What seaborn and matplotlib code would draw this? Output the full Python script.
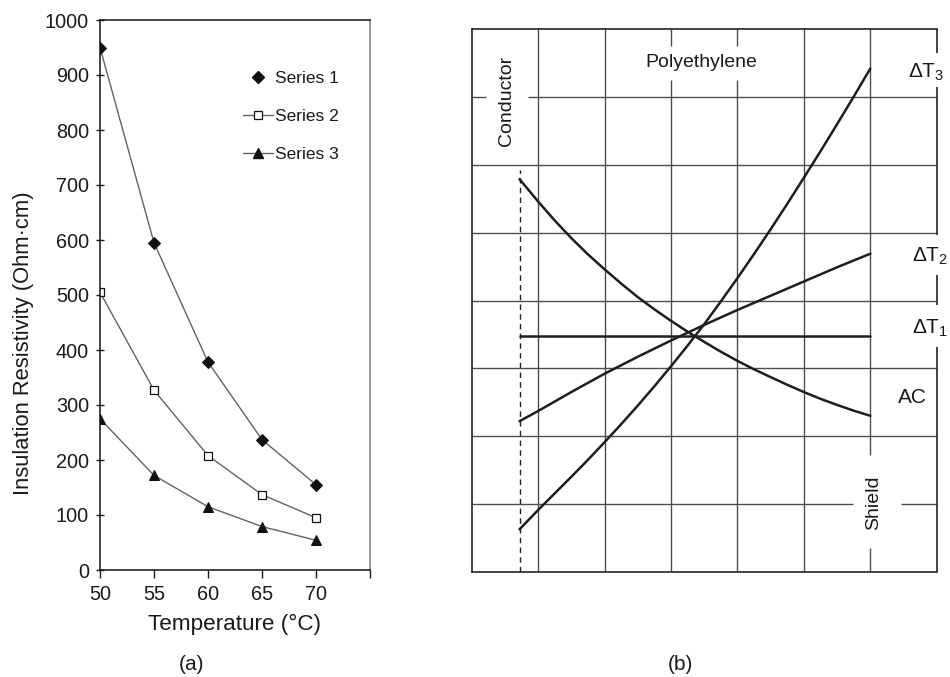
import matplotlib
matplotlib.use("Agg")
import matplotlib.pyplot as plt
import seaborn as sns
from matplotlib.lines import Line2D

# ---- (a) insulation resistivity versus temperature ----
temperature = [50, 55, 60, 65, 70]
series_1 = [950, 595, 378, 237, 155]
series_2 = [505, 327, 208, 137, 95]
series_3 = [275, 172, 115, 79, 54]
series_names = ["Series 1", "Series 2", "Series 3"]
temp_ticks = [50, 55, 60, 65, 70, 75]
temp_tick_labels = ["50", "55", "60", "65", "70", ""]
resist_ticks = [0, 100, 200, 300, 400, 500, 600, 700, 800, 900, 1000]

# ---- (b) electrical stress across the insulation wall ----
thickness = [0.72, 1.0, 1.25, 1.5, 1.75, 2.0, 2.25, 2.5, 2.75, 3.0, 3.25,
             3.5, 3.75, 4.0, 4.25, 4.5, 4.75, 5.0, 5.25, 5.5, 5.75, 6.0]
stress_ac = [5.79, 5.46, 5.18, 4.92, 4.68, 4.46, 4.25, 4.05, 3.87, 3.70, 3.54,
             3.39, 3.245, 3.11, 2.985, 2.87, 2.757, 2.65, 2.55, 2.46, 2.375, 2.30]
stress_dt2 = [2.22, 2.37, 2.51, 2.65, 2.785, 2.92, 3.045, 3.17, 3.29, 3.41, 3.525,
              3.64, 3.75, 3.86, 3.965, 4.07, 4.175, 4.28, 4.385, 4.49, 4.59, 4.69]
stress_dt3 = [0.625, 0.91, 1.155, 1.40, 1.65, 1.91, 2.175, 2.45, 2.735, 3.03, 3.335,
              3.65, 3.985, 4.33, 4.685, 5.05, 5.425, 5.81, 6.20, 6.60, 7.005, 7.42]
thickness_dt1 = [0.72, 6.0]
stress_dt1 = [3.47, 3.47]
conductor_edge = 0.72
conductor_top = 5.92

sns.set_theme(style="ticks")
plt.rcParams["font.family"] = ["Liberation Sans", "DejaVu Sans"]
plt.rcParams["mathtext.fontset"] = "custom"
plt.rcParams["mathtext.rm"] = "Liberation Sans"
plt.rcParams["mathtext.it"] = "Liberation Sans:italic"
plt.rcParams["text.color"] = "#1a1a1a"
plt.rcParams["axes.labelcolor"] = "#1a1a1a"
plt.rcParams["xtick.color"] = "#1a1a1a"
plt.rcParams["ytick.color"] = "#1a1a1a"

W, H = 950, 677
fig = plt.figure(figsize=(9.5, 6.77), dpi=100)
fig.patch.set_facecolor("white")


def box(x0, y0, x1, y1):
    """Axes rectangle from pixel edges (top-left origin)."""
    return [x0 / W, 1 - y1 / H, (x1 - x0) / W, (y1 - y0) / H]


# ================= panel (a) =================
ax1 = fig.add_axes(box(100, 20, 370, 570))
line_col = "#636363"
styles = [
    dict(marker="D", markersize=6.0, markerfacecolor="#111", markeredgecolor="#111"),
    dict(marker="s", markersize=6.3, markerfacecolor="white", markeredgecolor="#111",
         markeredgewidth=0.9),
    dict(marker="^", markersize=7.0, markerfacecolor="#111", markeredgecolor="#111"),
]
for vals, st in zip([series_1, series_2, series_3], styles):
    sns.lineplot(x=temperature, y=vals, ax=ax1, color=line_col, linewidth=1.0, **st)

ax1.set_xlim(50, 75)
ax1.set_ylim(0, 1000)
ax1.set_xticks(temp_ticks)
ax1.set_xticklabels(temp_tick_labels)
ax1.set_yticks(resist_ticks)
ax1.tick_params(axis="y", direction="inout", length=6, width=1.0, labelsize=14.3, pad=5)
ax1.tick_params(axis="x", direction="out", length=6, width=1.0, labelsize=14.3, pad=5)
for side in ["left", "bottom", "top"]:
    ax1.spines[side].set_color("#111")
    ax1.spines[side].set_linewidth(1.1)
ax1.spines["right"].set_color("#7a7a7a")
ax1.spines["right"].set_linewidth(1.1)
ax1.set_xlabel("Temperature (°C)", fontsize=16.2, labelpad=7)
ax1.set_ylabel("Insulation Resistivity (Ohm·cm)", fontsize=15.8)
ax1.yaxis.set_label_coords(-0.245, 0.413)

handles = [
    Line2D([], [], linestyle="none", **styles[0]),
    Line2D([], [], color=line_col, linewidth=1.0, **styles[1]),
    Line2D([], [], color=line_col, linewidth=1.0, **styles[2]),
]
ax1.legend(handles, series_names, loc="upper left", bbox_to_anchor=(0.53, 0.907),
           frameon=False, fontsize=12.5, handlelength=1.7, handletextpad=0.15,
           labelspacing=1.32, borderpad=0, borderaxespad=0)

# ================= panel (b) =================
ax2 = fig.add_axes(box(471.7, 29.3, 936.7, 571.7))
ax2.set_xlim(0, 7)
ax2.set_ylim(0, 8)
ax2.set_xticks([])
ax2.set_yticks([])

grid_col = "#4d4d4d"
grid_lw = 1.0
# grid lines, with openings left for the labels
v_gaps = {3: [(7.25, 7.76)], 4: [(7.25, 7.76)], 6: [(0.345, 1.72)]}
h_gaps = {7: [(0.215, 0.84)], 1: [(5.745, 6.47)]}


def pieces(lo, hi, gaps):
    out, start = [], lo
    for g0, g1 in sorted(gaps):
        out.append((start, g0))
        start = g1
    out.append((start, hi))
    return out


for gx in range(1, 7):
    for a, b in pieces(0, 8, v_gaps.get(gx, [])):
        ax2.vlines(gx, a, b, colors=grid_col, linewidth=grid_lw, zorder=1)
for gy in range(1, 8):
    for a, b in pieces(0, 7, h_gaps.get(gy, [])):
        ax2.hlines(gy, a, b, colors=grid_col, linewidth=grid_lw, zorder=1)

for side in ["left", "bottom", "top"]:
    ax2.spines[side].set_color("#222")
    ax2.spines[side].set_linewidth(1.2)
ax2.spines["right"].set_visible(False)
for a, b in pieces(0, 8, [(7.15, 7.65), (4.38, 4.97), (3.31, 3.93)]):
    ax2.vlines(7, a, b, colors="#222", linewidth=1.2, clip_on=False, zorder=3)

# conductor boundary
ax2.vlines(conductor_edge, 0, conductor_top, colors="#222", linewidth=1.0,
           linestyles=(0, (4, 3)), zorder=2)

curve_col = "#1e1e1e"
for xs, ys in [(thickness, stress_ac), (thickness_dt1, stress_dt1),
               (thickness, stress_dt2), (thickness, stress_dt3)]:
    sns.lineplot(x=xs, y=ys, ax=ax2, color=curve_col, linewidth=1.8, zorder=4,
                 solid_joinstyle="round")

ax2.text(3.46, 7.51, "Polyethylene", ha="center", va="center", fontsize=14)
ax2.text(0.527, 6.945, "Conductor", ha="center", va="center", rotation=90, fontsize=14)
ax2.text(6.045, 1.01, "Shield", ha="center", va="center", rotation=90, fontsize=14)
ax2.text(6.575, 7.28, r"$\Delta\mathrm{T}_3$", ha="left", va="baseline", fontsize=15)
ax2.text(6.635, 4.57, r"$\Delta\mathrm{T}_2$", ha="left", va="baseline", fontsize=15)
ax2.text(6.633, 3.516, r"$\Delta\mathrm{T}_1$", ha="left", va="baseline", fontsize=15)
ax2.text(6.42, 2.484, "AC", ha="left", va="baseline", fontsize=15)

ax2.set_xlabel("Insulation Thickness", fontsize=15.5, labelpad=15)
ax2.set_ylabel("Electrical Stress", fontsize=15.5, labelpad=18)

fig.text(191.7 / W, 1 - 655 / H, "(a)", ha="center", va="top", fontsize=15)
fig.text(680 / W, 1 - 655 / H, "(b)", ha="center", va="top", fontsize=15)

fig.savefig("out.png", dpi=100, facecolor="white")
